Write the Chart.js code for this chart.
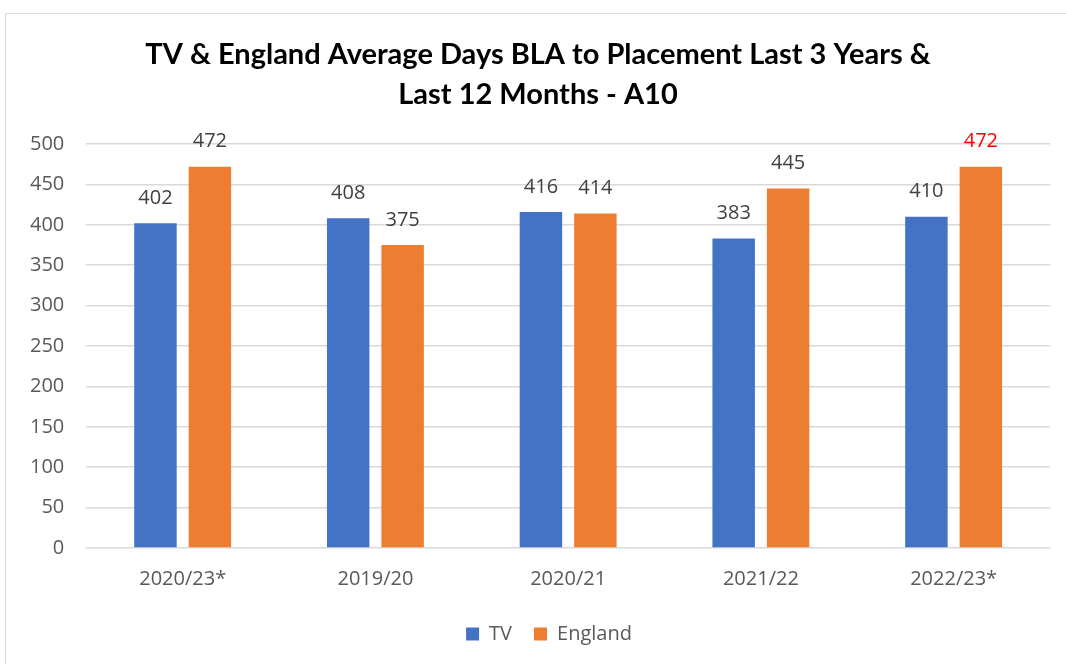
<!DOCTYPE html>
<html><head><meta charset="utf-8">
<script src="https://cdn.jsdelivr.net/npm/chart.js@4/dist/chart.umd.min.js"></script>
<style>
html,body{margin:0;padding:0;background:#fff;width:1066px;height:664px;overflow:hidden;}
#frame{position:absolute;left:5px;top:13px;width:1100px;height:700px;border:1px solid #d9d9d9;}
#wrap{position:absolute;left:0;top:0;width:1066px;height:664px;}
</style></head>
<body>
<div id="frame"></div>
<div id="wrap"><canvas id="c" width="1066" height="664"></canvas></div>
<script>
const categories = ["2020/23*", "2019/20", "2020/21", "2021/22", "2022/23*"];
const tvValues = [402, 408, 416, 383, 410];
const englandValues = [472, 375, 414, 445, 472];
const englandLabelColors = ["#404040", "#404040", "#404040", "#404040", "#ff0000"];
const titleLines = ["TV & England Average Days BLA to Placement Last 3 Years &", "Last 12 Months - A10"];

const valueLabels = {
  id: 'valueLabels',
  afterDatasetsDraw(chart) {
    const ctx = chart.ctx;
    ctx.save();
    ctx.font = '20px "Open Sans", sans-serif';
    ctx.textAlign = 'center';
    ctx.textBaseline = 'middle';
    chart.data.datasets.forEach((ds, di) => {
      const meta = chart.getDatasetMeta(di);
      meta.data.forEach((bar, i) => {
        ctx.fillStyle = (di === 1) ? englandLabelColors[i] : '#404040';
        ctx.fillText(String(ds.data[i]), bar.x, bar.y - 25);
      });
    });
    ctx.restore();
  }
};

const shiftBlocks = {
  id: 'shiftBlocks',
  afterLayout(chart) {
    if (chart.legend) { chart.legend.left += 20; chart.legend.right += 20; }
    if (chart.titleBlock) { chart.titleBlock.left += 9; chart.titleBlock.right += 9; }
  }
};

new Chart(document.getElementById('c'), {
  type: 'bar',
  data: {
    labels: categories,
    datasets: [
      { label: 'TV', data: tvValues, backgroundColor: '#4472c4', categoryPercentage: 0.565, barPercentage: 0.78 },
      { label: 'England', data: englandValues, backgroundColor: '#ed7d31', categoryPercentage: 0.565, barPercentage: 0.78 }
    ]
  },
  options: {
    responsive: false,
    animation: false,
    layout: { padding: { left: 8, right: 16, top: 35, bottom: 10 } },
    plugins: {
      title: {
        display: true,
        text: titleLines,
        color: '#000',
        font: { family: 'Lato, sans-serif', size: 29, weight: 'bold', lineHeight: 1.38 },
        padding: { top: 0, bottom: 29 }
      },
      legend: {
        position: 'bottom',
        labels: { color: '#595959', font: { family: '"Open Sans", sans-serif', size: 20 }, boxWidth: 13, boxHeight: 13, padding: 22 }
      },
      tooltip: { enabled: false }
    },
    scales: {
      x: {
        grid: { display: false },
        border: { display: false },
        ticks: { color: '#595959', font: { family: '"Open Sans", sans-serif', size: 20 }, padding: 11 }
      },
      y: {
        min: 0, max: 500,
        grid: { color: '#d9d9d9', lineWidth: 1.5, drawTicks: false },
        border: { display: false },
        ticks: { stepSize: 50, color: '#595959', font: { family: '"Open Sans", sans-serif', size: 20 }, padding: 22 }
      }
    }
  },
  plugins: [valueLabels, shiftBlocks]
});
</script>
</body></html>
